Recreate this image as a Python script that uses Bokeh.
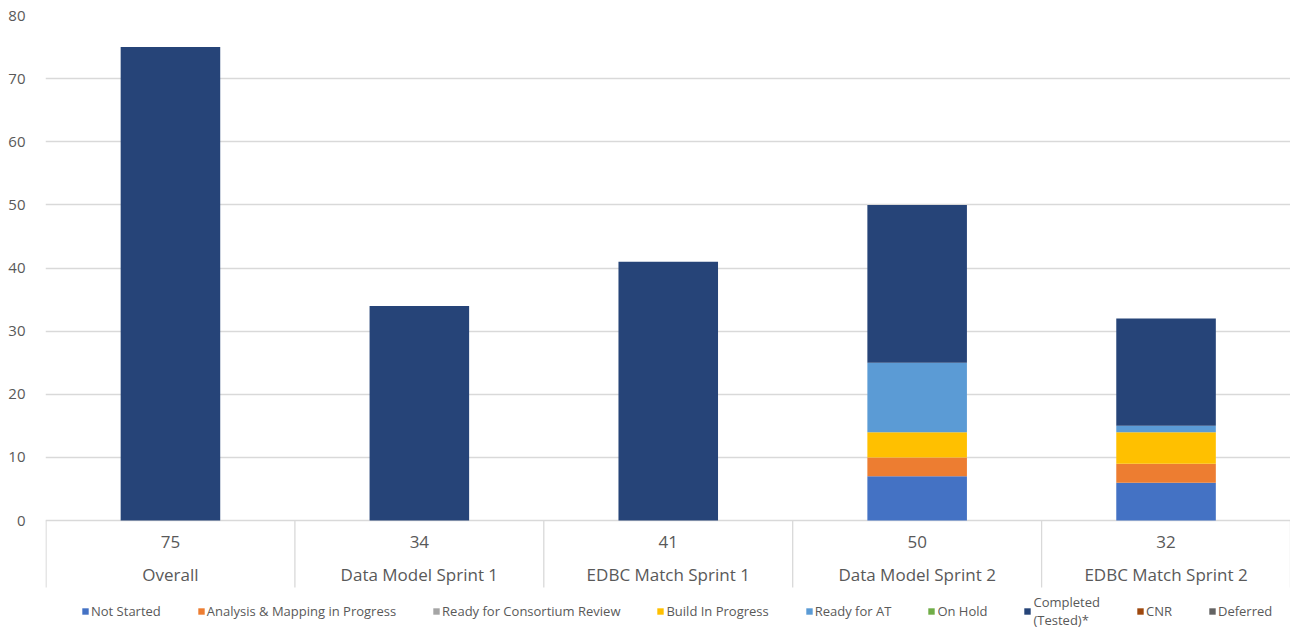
import numpy as np
from bokeh.plotting import figure
from bokeh.models import ColumnDataSource, FixedTicker, Range1d, Legend, LegendItem
from bokeh.core.properties import value
from bokeh.embed import file_html
from bokeh.resources import INLINE

categories = ["Overall", "Data Model Sprint 1", "EDBC Match Sprint 1",
              "Data Model Sprint 2", "EDBC Match Sprint 2"]
series_names = ["Not Started", "Analysis & Mapping in Progress", "Ready for Consortium Review",
                "Build In Progress", "Ready for AT", "On Hold", "Completed\n(Tested)*",
                "CNR", "Deferred"]
not_started = [0, 0, 0, 7, 6]
analysis_mapping = [0, 0, 0, 3, 3]
ready_consortium = [0, 0, 0, 0, 0]
build_in_progress = [0, 0, 0, 4, 5]
ready_for_at = [0, 0, 0, 11, 1]
on_hold = [0, 0, 0, 0, 0]
completed_tested = [75, 34, 41, 25, 17]
cnr = [0, 0, 0, 0, 0]
deferred = [0, 0, 0, 0, 0]
y_ticks = [0, 10, 20, 30, 40, 50, 60, 70, 80]

colors = ["#4472C4", "#ED7D31", "#A5A5A5", "#FFC000", "#5B9BD5",
          "#70AD47", "#264478", "#9E480E", "#636363"]
keys = ["ns", "am", "rc", "bp", "ra", "oh", "ct", "cnr", "df"]
series = [not_started, analysis_mapping, ready_consortium, build_in_progress,
          ready_for_at, on_hold, completed_tested, cnr, deferred]

n = len(categories)
xs = np.arange(n) + 0.5
totals = [int(sum(s[i] for s in series)) for i in range(n)]

data = {"x": xs, "cat": categories, "tot": [str(t) for t in totals]}
for k, s in zip(keys, series):
    data[k] = s
src = ColumnDataSource(data)

W, H = 1290, 637
top_px, zero_px, left_px = 15, 520, 45
ppu = (zero_px - top_px) / 80.0
ymin = -(H - zero_px) / ppu

FONT = "Open Sans"
GRAY = "#595959"

p = figure(width=W, height=H, output_backend="svg", toolbar_location=None,
           x_range=Range1d(-0.002, n), y_range=Range1d(ymin, 80),
           x_axis_type=None, min_border_left=left_px, min_border_right=0,
           min_border_top=top_px, min_border_bottom=0)
p.outline_line_color = None
p.background_fill_color = "white"
p.border_fill_color = "white"

p.yaxis.ticker = FixedTicker(ticks=y_ticks)
p.yaxis.axis_line_color = None
p.yaxis.major_tick_line_color = None
p.yaxis.minor_tick_line_color = None
p.yaxis.major_label_text_font = FONT
p.yaxis.major_label_text_font_size = "15px"
p.yaxis.major_label_text_color = GRAY
p.yaxis.major_label_standoff = 14
p.ygrid.ticker = FixedTicker(ticks=y_ticks)
p.ygrid.grid_line_color = "#D9D9D9"
p.ygrid.grid_line_width = 1.3
p.xgrid.visible = False

rs = p.vbar_stack(keys, x="x", width=0.4, source=src, color=colors, line_color=None)

# table-style category axis
sep_x = np.arange(n + 1)
sep_bottom = -(587 - zero_px) / ppu
p.segment(x0=sep_x, y0=[0] * (n + 1), x1=sep_x, y1=[sep_bottom] * (n + 1),
          line_color="#D9D9D9", line_width=1.3)
p.text(x="x", y=-(541 - zero_px) / ppu, text="tot", source=src,
       text_font=value(FONT), text_font_size="17px", text_color=GRAY,
       text_align="center", text_baseline="middle")
p.text(x="x", y=-(574 - zero_px) / ppu, text="cat", source=src,
       text_font=value(FONT), text_font_size="17px", text_color=GRAY,
       text_align="center", text_baseline="middle")

items = [LegendItem(label=nm, renderers=[r]) for nm, r in zip(series_names, rs)]
legend = Legend(items=items, orientation="horizontal", location=(36, 8),
                glyph_width=8, glyph_height=8, label_standoff=2, spacing=36,
                padding=0, margin=0, background_fill_alpha=0, border_line_color=None,
                label_text_font=FONT, label_text_font_size="13px",
                label_text_color=GRAY, label_height=12, label_text_line_height=1.15)
p.add_layout(legend, "center")

open("out.html", "w").write(file_html(p, INLINE))
